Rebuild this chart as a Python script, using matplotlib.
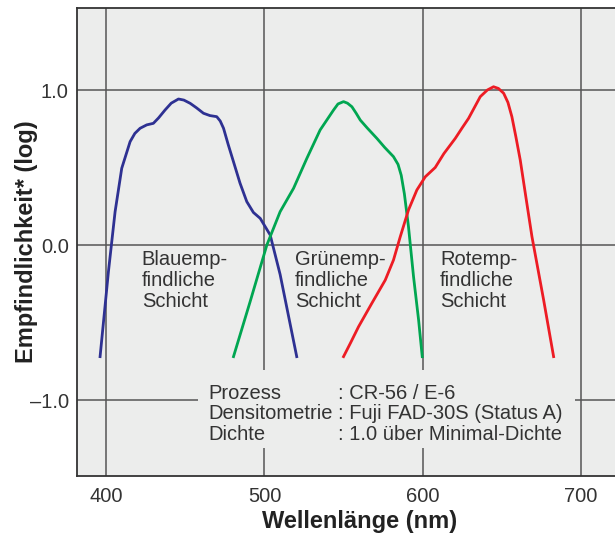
"""
Spektrale Empfindlichkeit der drei Schichten (Fuji CR-56 / E-6).
"""

import matplotlib
matplotlib.use("Agg")
import matplotlib.pyplot as plt
from matplotlib.patches import Rectangle

plt.rcParams["font.family"] = ["Liberation Sans", "DejaVu Sans"]

BG = "#ecedec"
GRID = "#555555"
TEXT = "#333333"

# Blauempfindliche Schicht
BLUE_NM = [396.0, 401.3, 405.5, 409.7, 415.0, 418.0, 421.3, 425.5, 429.7, 433.0,
           437.1, 441.0, 445.6, 449.0, 453.0, 457.0, 461.4, 465.5, 469.8, 472.0,
           474.1, 477.0, 480.4, 484.5, 488.8, 493.0, 497.3, 503.6, 509.9, 520.4]
BLUE_VAL = [-0.72, -0.17, 0.215, 0.495, 0.667, 0.72, 0.753, 0.775, 0.785, 0.82,
            0.871, 0.915, 0.942, 0.935, 0.914, 0.885, 0.85, 0.835, 0.828, 0.80,
            0.753, 0.65, 0.537, 0.40, 0.28, 0.21, 0.172, 0.065, -0.19, -0.72]

# Grünempfindliche Schicht
GREEN_NM = [480.4, 490.9, 501.5, 509.9, 518.4, 526.8, 535.2, 543.7, 546.5, 550.0,
            552.5, 555.3, 558.0, 560.6, 565.0, 571.1, 576.0, 581.6, 584.5, 586.5,
            588.5, 591.1, 594.3, 597.5, 599.8]
GREEN_VAL = [-0.72, -0.366, 0.0, 0.215, 0.366, 0.559, 0.742, 0.871, 0.91, 0.925,
             0.915, 0.892, 0.85, 0.806, 0.755, 0.688, 0.63, 0.57, 0.52, 0.45,
             0.33, 0.118, -0.205, -0.484, -0.72]

# Rotempfindliche Schicht
RED_NM = [550.0, 554.5, 559.5, 567.9, 576.4, 581.6, 585.9, 591.1, 596.4, 601.7,
          608.0, 613.5, 620.7, 625.0, 629.1, 636.5, 641.0, 644.9, 648.0, 651.3,
          654.0, 656.5, 659.0, 661.8, 665.5, 669.2, 676.6, 682.9]
RED_VAL = [-0.72, -0.63, -0.527, -0.376, -0.226, -0.097, 0.054, 0.226, 0.355, 0.44,
           0.50, 0.59, 0.688, 0.755, 0.817, 0.957, 1.0, 1.021, 1.01, 0.979,
           0.92, 0.828, 0.70, 0.548, 0.30, 0.054, -0.355, -0.72]

X_TICKS = [400, 500, 600, 700]
Y_TICKS = [-1.0, 0.0, 1.0]
Y_TICK_LABELS = ["\u20131.0", "0.0", "1.0"]

LAYER_LABELS = ["Blauemp-\nfindliche\nSchicht",
                "Grünemp-\nfindliche\nSchicht",
                "Rotemp-\nfindliche\nSchicht"]
LAYER_LABEL_X = [422.3, 519.4, 611.1]

INFO_KEYS = "Prozess\nDensitometrie\nDichte"
INFO_VALUES = ": CR-56 / E-6\n: Fuji FAD-30S (Status A)\n: 1.0 über Minimal-Dichte"


def main():
    fig = plt.figure(figsize=(6.15, 5.37), dpi=100)
    ax = fig.add_axes([77 / 615, 61 / 537, 543 / 615, 468 / 537])
    ax.set_facecolor(BG)

    ax.set_xlim(381.4, 724.9)
    ax.set_ylim(-1.490, 1.529)

    ax.set_xticks(X_TICKS)
    ax.set_yticks(Y_TICKS)
    ax.set_yticklabels(Y_TICK_LABELS)
    ax.tick_params(length=0, labelsize=14.5, labelcolor=TEXT)
    ax.tick_params(axis="x", pad=8)
    ax.tick_params(axis="y", pad=6)

    ax.set_axisbelow(True)
    ax.grid(True, color=GRID, linewidth=1.1)

    for side in ["left", "bottom", "top"]:
        ax.spines[side].set_color("#333333")
        ax.spines[side].set_linewidth(1.3)
    ax.spines["right"].set_visible(False)

    ax.plot(BLUE_NM, BLUE_VAL, color="#2e3192", linewidth=2.0, zorder=3)
    ax.plot(GREEN_NM, GREEN_VAL, color="#00a651", linewidth=2.0, zorder=3)
    ax.plot(RED_NM, RED_VAL, color="#ed1c24", linewidth=2.0, zorder=3)

    # baseline of the multi-line text = baseline of its last line
    for label, x in zip(LAYER_LABELS, LAYER_LABEL_X):
        ax.text(x, -0.40, label, fontsize=14.5, color=TEXT, ha="left",
                va="baseline", linespacing=1.12, zorder=4)

    # background patch hiding the grid behind the info text
    ax.add_patch(Rectangle((458, -1.31), 238.5, 0.504, facecolor=BG,
                           edgecolor="none", zorder=1))
    ax.text(464.3, -1.255, INFO_KEYS, fontsize=14.5, color=TEXT, ha="left",
            va="baseline", linespacing=1.1, zorder=4)
    ax.text(546.5, -1.255, INFO_VALUES, fontsize=14.5, color=TEXT, ha="left",
            va="baseline", linespacing=1.1, zorder=4)

    ax.set_xlabel("Wellenlänge (nm)", fontsize=17, fontweight="bold", color="#222222")
    ax.xaxis.set_label_coords(0.521, -0.073)
    ax.set_ylabel("Empfindlichkeit* (log)", fontsize=17, fontweight="bold", color="#222222")
    ax.yaxis.set_label_coords(-0.072, 0.5)

    fig.savefig("out.png", dpi=100, facecolor="white")
    plt.close(fig)


if __name__ == "__main__":
    main()
